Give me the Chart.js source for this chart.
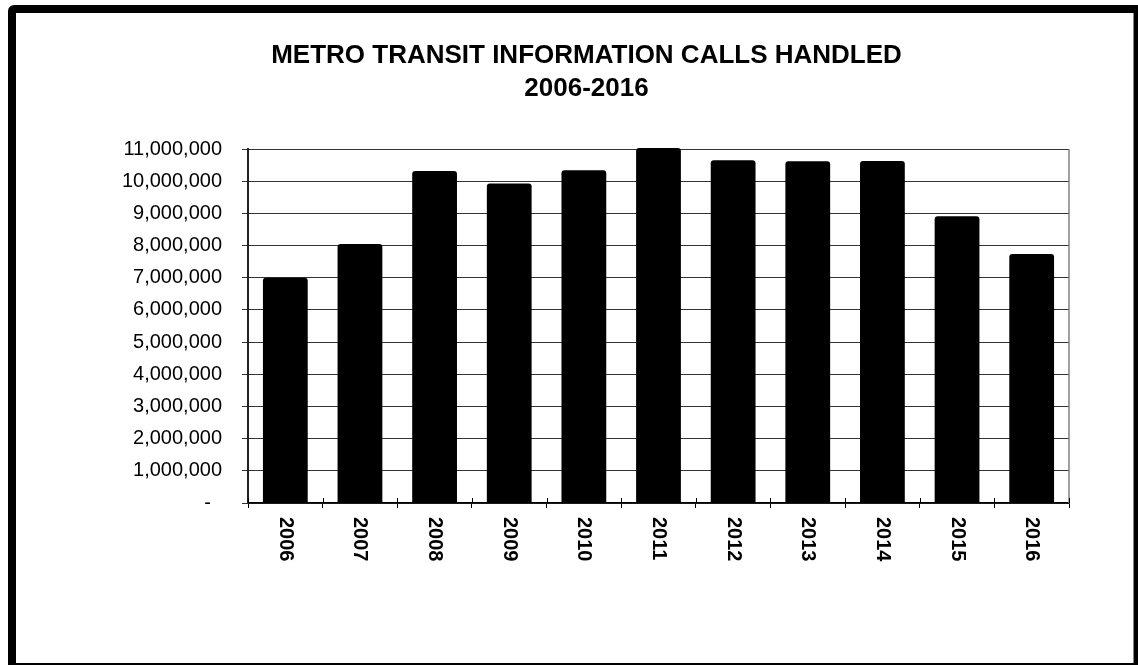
<!DOCTYPE html>
<html>
<head>
<meta charset="utf-8">
<title>Metro Transit Information Calls Handled</title>
<script src="https://cdn.jsdelivr.net/npm/chart.js@4"></script>
<style>
    html, body { margin: 0; padding: 0; background: #fff; }
    #wrap { position: relative; width: 1138px; height: 665px; overflow: hidden; }
    #frame {
        position: absolute; left: 8px; top: 5px; width: 1130px; height: 660px;
        box-sizing: border-box; border: solid #000; border-width: 8px 4px 2px 8px;
        border-top-left-radius: 6px; box-shadow: inset -1px 0 0 #888; pointer-events: none;
    }
</style>
</head>
<body>
<div id="wrap">
    <canvas id="callsChart" width="1138" height="665"></canvas>
    <div id="frame"></div>
</div>
<script>
// Donn√©es
const years = ['2006', '2007', '2008', '2009', '2010', '2011', '2012', '2013', '2014', '2015', '2016'];
const callsHandled = [7000000, 8050000, 10320000, 9930000, 10340000, 11030000, 10650000, 10620000, 10630000, 8910000, 7740000];
const titleLines = ['METRO TRANSIT INFORMATION CALLS HANDLED', '2006-2016'];
const yMin = 0;
const yMax = 11000000;
const yStep = 1000000;

const FONT = "'Liberation Sans', Arial, sans-serif";

// cadre gris du plot (bord droit)
const plotBorder = {
    id: 'plotBorder',
    beforeDatasetsDraw(chart) {
        const { ctx, chartArea: a } = chart;
        ctx.save();
        ctx.strokeStyle = '#808080';
        ctx.lineWidth = 1.5;
        ctx.beginPath();
        ctx.moveTo(a.right, a.top);
        ctx.lineTo(a.right, a.bottom);
        ctx.stroke();
        ctx.restore();
    }
};

// √©tiquettes X tourn√©es de 90¬∞ (lecture haut -> bas) + graduations qui croisent l'axe
const xLabels = {
    id: 'xLabels',
    afterDraw(chart) {
        const { ctx, chartArea: a } = chart;
        const x = chart.scales.x;
        const n = years.length;
        ctx.save();
        ctx.strokeStyle = '#000';
        ctx.lineWidth = 1;
        for (let i = 0; i <= n; i++) {
            const px = Math.round(a.left + i * (a.right - a.left) / n) + 0.5;
            ctx.beginPath();
            ctx.moveTo(px, a.bottom - 5);
            ctx.lineTo(px, a.bottom);
            ctx.stroke();
        }
        ctx.fillStyle = '#000';
        ctx.font = 'bold 20px ' + FONT;
        ctx.textAlign = 'left';
        ctx.textBaseline = 'middle';
        years.forEach((label, i) => {
            ctx.save();
            ctx.translate(x.getPixelForValue(i), a.bottom + 14);
            ctx.rotate(Math.PI / 2);
            ctx.fillText(label, 0, 0);
            ctx.restore();
        });
        ctx.restore();
    }
};

new Chart(document.getElementById('callsChart'), {
    type: 'bar',
    data: {
        labels: years,
        datasets: [{
            data: callsHandled,
            backgroundColor: '#000',
            borderColor: '#000',
            borderWidth: 0,
            borderRadius: 3,
            borderSkipped: 'bottom',
            barPercentage: 0.6,
            categoryPercentage: 1,
            clip: false
        }]
    },
    options: {
        responsive: false,
        animation: false,
        layout: { padding: { left: 104, right: 69, top: 0, bottom: 157 } },
        plugins: {
            legend: { display: false },
            tooltip: { enabled: false },
            title: {
                display: true,
                text: titleLines,
                color: '#000',
                font: { family: FONT, size: 26, weight: 'bold', lineHeight: 1.25 },
                padding: { top: 40, bottom: 44 }
            }
        },
        scales: {
            x: {
                grid: { display: true, drawOnChartArea: false, drawTicks: true, tickLength: 5, color: '#000', offset: true },
                border: { color: '#000', width: 1.5 },
                ticks: { display: false }
            },
            y: {
                min: yMin,
                max: yMax,
                afterFit: scale => { scale.width = 144; },
                grid: { color: '#333', lineWidth: 1, tickLength: 6 },
                border: { color: '#222', width: 2 },
                ticks: {
                    stepSize: yStep,
                    padding: 20,
                    color: '#000',
                    font: { family: FONT, size: 20 },
                    callback: v => v === 0 ? '-  ' : v.toLocaleString('en-US')
                }
            }
        }
    },
    plugins: [plotBorder, xLabels]
});
</script>
</body>
</html>
